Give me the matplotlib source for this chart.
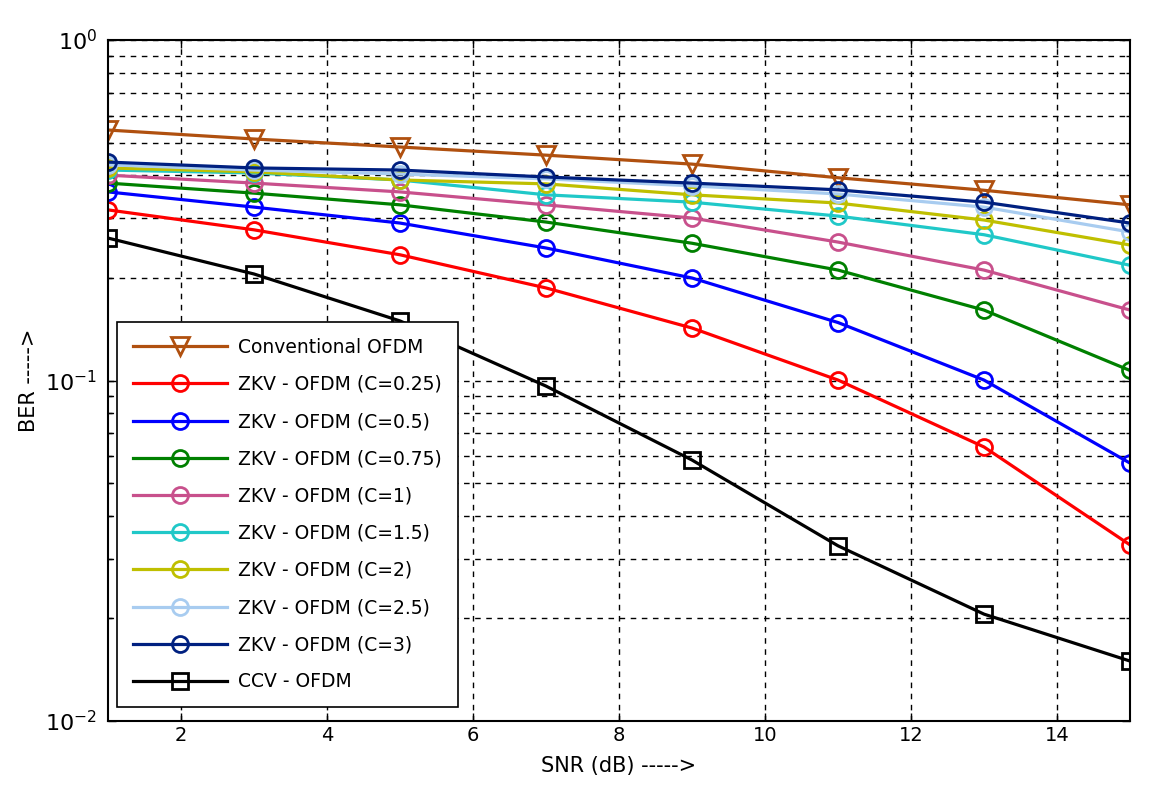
import matplotlib
matplotlib.use("Agg")
import matplotlib.pyplot as plt
from matplotlib.ticker import LogLocator, NullFormatter, FixedLocator

snr = [1, 3, 5, 7, 9, 11, 13, 15]

ber_conv = [0.544, 0.512, 0.485, 0.459, 0.432, 0.394, 0.362, 0.328]
ber_c025 = [0.317, 0.277, 0.234, 0.187, 0.1426, 0.1003, 0.0638, 0.0329]
ber_c05 = [0.358, 0.323, 0.290, 0.245, 0.200, 0.148, 0.1003, 0.0572]
ber_c075 = [0.380, 0.355, 0.328, 0.292, 0.253, 0.211, 0.161, 0.107]
ber_c1 = [0.401, 0.380, 0.358, 0.328, 0.300, 0.255, 0.211, 0.161]
ber_c15 = [0.415, 0.407, 0.388, 0.351, 0.334, 0.304, 0.268, 0.218]
ber_c2 = [0.421, 0.410, 0.388, 0.378, 0.351, 0.332, 0.296, 0.250]
ber_c25 = [0.430, 0.415, 0.404, 0.391, 0.373, 0.353, 0.323, 0.273]
ber_c3 = [0.438, 0.421, 0.415, 0.396, 0.380, 0.363, 0.334, 0.290]
ber_ccv = [0.262, 0.2055, 0.1496, 0.0963, 0.0584, 0.0327, 0.0206, 0.0150]

labels = ["Conventional OFDM", "ZKV - OFDM (C=0.25)", "ZKV - OFDM (C=0.5)",
          "ZKV - OFDM (C=0.75)", "ZKV - OFDM (C=1)", "ZKV - OFDM (C=1.5)",
          "ZKV - OFDM (C=2)", "ZKV - OFDM (C=2.5)", "ZKV - OFDM (C=3)",
          "CCV - OFDM"]
series = [ber_conv, ber_c025, ber_c05, ber_c075, ber_c1, ber_c15,
          ber_c2, ber_c25, ber_c3, ber_ccv]
colors = ["#B0500F", "#FF0000", "#0000FF", "#008000", "#C8508C", "#20C8C8",
          "#BFBF00", "#A8CCF0", "#002080", "#000000"]
markers = ["v", "o", "o", "o", "o", "o", "o", "o", "o", "s"]
msizes = [13, 11.5, 11.5, 11.5, 11.5, 11.5, 11.5, 11.5, 11.5, 12]

fig = plt.figure(figsize=(11.49, 7.96), dpi=100)
ax = fig.add_axes([108/1149, 75/796, 1022/1149, 681/796])

for y, lab, c, m, ms in zip(series, labels, colors, markers, msizes):
    ax.plot(snr, y, color=c, marker=m, markersize=ms, markerfacecolor="none",
            markeredgecolor=c, markeredgewidth=2, linewidth=2.3, label=lab)

ax.set_yscale("log")
ax.set_xlim(1, 15)
ax.set_ylim(1e-2, 1e0)
ax.xaxis.set_major_locator(FixedLocator([2, 4, 6, 8, 10, 12, 14]))
ax.yaxis.set_major_locator(LogLocator(base=10, numticks=10))
ax.yaxis.set_minor_locator(LogLocator(base=10, subs=range(2, 10), numticks=20))
ax.yaxis.set_minor_formatter(NullFormatter())

ax.grid(True, which="major", color="black", linestyle=(0, (4, 4)), linewidth=1)
ax.grid(True, which="minor", axis="y", color="black", linestyle=(0, (4, 4)), linewidth=1)
ax.set_axisbelow(True)

ax.tick_params(which="both", direction="in", top=True, right=True, labelsize=14)
ax.tick_params(axis="y", labelsize=16, pad=8)
ax.tick_params(which="major", length=6, width=1)
ax.tick_params(which="minor", length=3, width=1)
for s in ax.spines.values():
    s.set_linewidth(1.5)
    s.set_color("black")

ax.set_xlabel("SNR (dB) ----->", fontsize=15, labelpad=8)
ax.set_ylabel("BER ----->", fontsize=15, labelpad=4)

leg = ax.legend(loc="lower left", bbox_to_anchor=(0.009, 0.02), borderaxespad=0,
                fontsize=13.5, handlelength=5.0, labelspacing=0.97,
                fancybox=False, framealpha=1, edgecolor="black",
                borderpad=0.85, handletextpad=0.6)
leg.get_frame().set_linewidth(1.2)

fig.savefig("out.png", dpi=100)
